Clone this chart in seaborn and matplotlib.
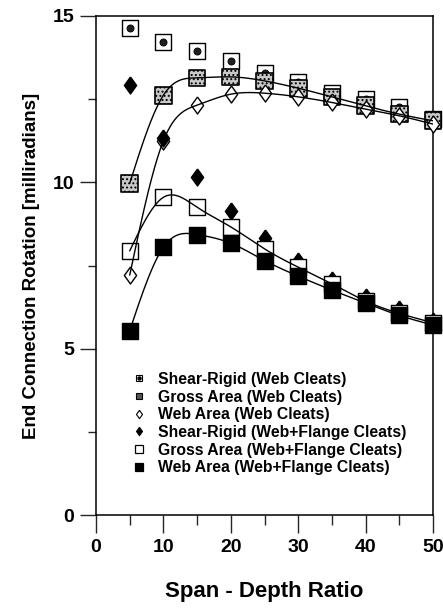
import numpy as np
import pandas as pd
import matplotlib
matplotlib.use("Agg")
import matplotlib.pyplot as plt
import seaborn as sns
from matplotlib.lines import Line2D
from matplotlib.legend_handler import HandlerTuple
from matplotlib.ticker import MultipleLocator

# ---------------- data ----------------
span_depth = [5, 10, 15, 20, 25, 30, 35, 40, 45, 50]
shear_rigid_web = [14.64, 14.23, 13.96, 13.65, 13.30, 13.03, 12.70, 12.50, 12.25, 11.90]
gross_area_web = [9.97, 12.62, 13.14, 13.17, 13.05, 12.83, 12.57, 12.30, 12.05, 11.85]
web_area_web = [7.21, 11.25, 12.32, 12.65, 12.68, 12.57, 12.40, 12.20, 12.00, 11.75]
shear_rigid_wf = [12.92, 11.32, 10.15, 9.15, 8.33, 7.65, 7.06, 6.56, 6.18, 5.82]
gross_area_wf = [7.94, 9.55, 9.25, 8.66, 8.00, 7.45, 6.95, 6.43, 6.06, 5.78]
web_area_wf = [5.54, 8.05, 8.43, 8.17, 7.65, 7.18, 6.76, 6.37, 6.00, 5.71]

labels = [
    "Shear-Rigid (Web Cleats)",
    "Gross Area (Web Cleats)",
    "Web Area (Web Cleats)",
    "Shear-Rigid (Web+Flange Cleats)",
    "Gross Area (Web+Flange Cleats)",
    "Web Area (Web+Flange Cleats)",
]
x_ticks = [0, 10, 20, 30, 40, 50]
y_ticks = [0, 5, 10, 15]
x_label = "Span - Depth Ratio"
y_label = "End Connection Rotation [milliradians]"


def smooth(x, y, n=300):
    """Natural cubic spline through the data points (for drawing the fitted curves)."""
    x = np.asarray(x, float)
    y = np.asarray(y, float)
    m = len(x)
    h = np.diff(x)
    A = np.zeros((m, m))
    r = np.zeros(m)
    A[0, 0] = A[-1, -1] = 1
    for i in range(1, m - 1):
        A[i, i - 1] = h[i - 1]
        A[i, i] = 2 * (h[i - 1] + h[i])
        A[i, i + 1] = h[i]
        r[i] = 6 * ((y[i + 1] - y[i]) / h[i] - (y[i] - y[i - 1]) / h[i - 1])
    M = np.linalg.solve(A, r)
    xs = np.linspace(x[0], x[-1], n)
    idx = np.clip(np.searchsorted(x, xs) - 1, 0, m - 2)
    x0, x1 = x[idx], x[idx + 1]
    hh = x1 - x0
    t0, t1 = x1 - xs, xs - x0
    ys = (M[idx] * t0 ** 3 + M[idx + 1] * t1 ** 3) / (6 * hh) \
        + (y[idx] / hh - M[idx] * hh / 6) * t0 + (y[idx + 1] / hh - M[idx + 1] * hh / 6) * t1
    return xs, ys


sns.set_theme(style="white")
plt.rcParams["font.family"] = ["Liberation Sans", "DejaVu Sans"]
plt.rcParams["font.weight"] = "bold"
plt.rcParams["hatch.linewidth"] = 0.9

fig = plt.figure(figsize=(4.43, 6.16), dpi=100)
ax = fig.add_axes([96 / 443, 101 / 616, 337 / 443, 499 / 616])

diamond = [(0, 1), (0.72, 0), (0, -1), (-0.72, 0), (0, 1)]
sq = 144
dm = 150
common = dict(ax=ax, clip_on=False, legend=False)

# Shear-Rigid (Web Cleats): open square with dark dot
sns.scatterplot(x=span_depth, y=shear_rigid_web, marker="s", s=sq,
                facecolor="white", edgecolor="black", linewidth=1.0, zorder=3, **common)
sns.scatterplot(x=span_depth, y=shear_rigid_web, marker="o", s=26,
                facecolor="#202020", edgecolor="black", linewidth=0.6, zorder=3.1, **common)
# Gross Area (Web Cleats): stippled square
sns.scatterplot(x=span_depth, y=gross_area_web, marker="s", s=sq,
                facecolor="#c8c8c8", edgecolor="black", linewidth=1.2, hatch="....",
                zorder=3.2, **common)
# Web Area (Web Cleats): open diamond
sns.scatterplot(x=span_depth, y=web_area_web, marker=diamond, s=dm,
                facecolor="white", edgecolor="black", linewidth=1.0, zorder=3.3, **common)
# Shear-Rigid (Web+Flange): filled diamond
sns.scatterplot(x=span_depth, y=shear_rigid_wf, marker=diamond, s=dm,
                facecolor="black", edgecolor="black", linewidth=1.0, zorder=3.4, **common)
# Gross Area (Web+Flange): open square
sns.scatterplot(x=span_depth, y=gross_area_wf, marker="s", s=sq,
                facecolor="white", edgecolor="black", linewidth=1.0, zorder=3.5, **common)
# Web Area (Web+Flange): filled square
sns.scatterplot(x=span_depth, y=web_area_wf, marker="s", s=sq,
                facecolor="black", edgecolor="black", linewidth=1.0, zorder=3.6, **common)

# fitted curves
for series in (gross_area_web, web_area_web, gross_area_wf, web_area_wf):
    xs, ys = smooth(span_depth, series)
    sns.lineplot(x=xs, y=ys, ax=ax, color="black", linewidth=1.0, sort=False,
                 estimator=None, zorder=5)

ax.set_xlim(0, 50)
ax.set_ylim(0, 15)
ax.set_xticks(x_ticks)
ax.set_yticks(y_ticks)
ax.xaxis.set_minor_locator(MultipleLocator(5))
ax.yaxis.set_minor_locator(MultipleLocator(2.5))
ax.tick_params(axis="x", which="major", direction="out", length=13, width=1.0,
               pad=4, labelsize=14, bottom=True)
ax.tick_params(axis="x", which="minor", direction="out", length=7, width=1.0, bottom=True)
ax.tick_params(axis="y", which="major", direction="out", length=11.5, width=1.0,
               pad=4, labelsize=14, left=True)
ax.tick_params(axis="y", which="minor", direction="out", length=6, width=1.0, left=True)
for lab in ax.get_xticklabels() + ax.get_yticklabels():
    lab.set_family(["Liberation Sans Narrow", "Liberation Sans", "DejaVu Sans"])
    lab.set_fontweight("bold")
    lab.set_color("black")
for sp in ax.spines.values():
    sp.set_visible(True)
    sp.set_color("black")
    sp.set_linewidth(1.1)
    sp.set_zorder(2)

ax.set_xlabel(x_label, fontsize=16, fontweight="bold", color="black", labelpad=18)
ax.set_ylabel(y_label, fontsize=13.5, fontweight="bold", color="black", labelpad=9)

# legend
ms = 5
h_sr = (Line2D([], [], ls="none", marker="s", ms=ms, mfc="white", mec="black", mew=0.8),
        Line2D([], [], ls="none", marker="o", ms=2.2, mfc="black", mec="black"))
h_ga = Line2D([], [], ls="none", marker="s", ms=ms, mfc="#555555", mec="black", mew=0.8)
h_wa = Line2D([], [], ls="none", marker=diamond, ms=ms + 1, mfc="white", mec="black", mew=0.8)
h_srf = Line2D([], [], ls="none", marker=diamond, ms=ms + 1, mfc="black", mec="black", mew=0.8)
h_gaf = Line2D([], [], ls="none", marker="s", ms=ms + 0.5, mfc="white", mec="black", mew=0.9)
h_waf = Line2D([], [], ls="none", marker="s", ms=ms + 0.5, mfc="black", mec="black", mew=0.9)
leg = ax.legend([h_sr, h_ga, h_wa, h_srf, h_gaf, h_waf], labels,
                handler_map={tuple: HandlerTuple(ndivide=1, pad=0)},
                loc="upper left", bbox_to_anchor=(124 / 443, 1 - 364 / 616),
                bbox_transform=fig.transFigure, frameon=False, borderpad=0,
                handlelength=0.9, handletextpad=0.75, labelspacing=0.17,
                prop={"size": 11.3, "weight": "bold"})
for t in leg.get_texts():
    t.set_color("black")

fig.savefig("out.png", dpi=100)
